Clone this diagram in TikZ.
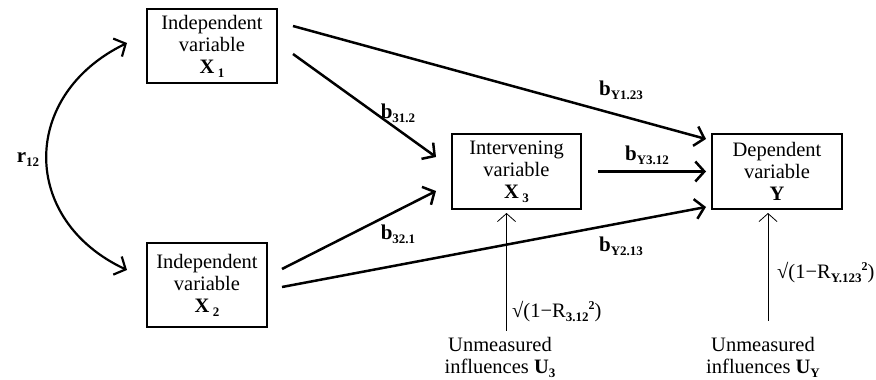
\documentclass[tikz,border=0pt]{standalone}
\usepackage{fontspec}
\setmainfont{Liberation Serif}
\usetikzlibrary{arrows.meta,calc}
\newcommand\lowsub[1]{\raisebox{-4pt}{\fontsize{13}{13}\selectfont\bfseries #1}}
\newcommand\highsup[1]{\raisebox{8pt}{\fontsize{12}{12}\selectfont\bfseries #1}}
\tikzset{
  var/.style={draw,line width=2pt,align=center,inner sep=2pt,
              font=\fontsize{20.5}{22}\selectfont},
  effect/.style={-{Straight Barb[length=9pt,width=20pt]},line width=2.5pt},
  corr/.style={{Straight Barb[length=9pt,width=20pt]}-{Straight Barb[length=9pt,width=20pt]},line width=2.2pt},
  resid/.style={-{Straight Barb[length=8pt,width=18pt]},line width=0.8pt},
  coef/.style={font=\fontsize{21}{22}\selectfont\bfseries,inner sep=1pt},
  note/.style={font=\fontsize{20.5}{22}\selectfont,align=center,inner sep=1pt},
}
\begin{document}
\begin{tikzpicture}[x=1pt,y=-1pt]
  \useasboundingbox (0,0) rectangle (876,380);
  % variables
  \node[var,minimum width=130pt,minimum height=74pt] (x1) at (212,46)
    {Independent\\variable\\\textbf{X}\,\lowsub{1}};
  \node[var,minimum width=120pt,minimum height=84pt] (x2) at (207,285)
    {Independent\\variable\\\textbf{X}\,\lowsub{2}};
  \node[var,minimum width=129pt,minimum height=75pt] (x3) at (516.5,171.5)
    {Intervening\\variable\\\textbf{X}\,\lowsub{3}};
  \node[var,minimum width=130pt,minimum height=75pt] (y) at (777,171.5)
    {Dependent\\variable\\\textbf{Y}};
  \node[note] (u3) at (500,357) {Unmeasured\\influences \textbf{U}\lowsub{3}};
  \node[note] (uy) at (763,357) {Unmeasured\\influences \textbf{U}\lowsub{Y}};
  % paths
  \draw[effect] ($(x1.north east)+(15,18)$) -- ($(y.north west)+(-5,6)$);
  \draw[effect] ($(x1.north east)+(15,46)$) -- ($(x3.north west)+(-15,24)$);
  \draw[effect] ($(x2.north east)+(14,27)$) -- ($(x3.south west)+(-15,-19)$);
  \draw[effect] ($(x2.north east)+(14,45)$) -- ($(y.south west)+(-5,-3)$);
  \draw[effect] ($(x3.east)+(16,0)$) -- ($(y.west)+(-5,0)$);
  \draw[corr] ($(x1.west)+(-19,-3)$) .. controls (20,95) and (20,220) .. ($(x2.west)+(-19,-15)$);
  \draw[resid] ([xshift=-10pt,yshift=5pt]x3.south |- u3.north) -- ([xshift=-10pt,yshift=-3pt]x3.south);
  \draw[resid] ([xshift=-9pt,yshift=15pt]y.south |- uy.north) -- ([xshift=-9pt,yshift=-3pt]y.south);
  % coefficients
  \node[coef] (r12) at (28,160) {r\lowsub{12}};
  \node[coef] (b312) at (398,113) {b\lowsub{31.2}};
  \node[coef] (b321) at (398,234) {b\lowsub{32.1}};
  \node[coef] (by123) at (621,90) {b\lowsub{Y1.23}};
  \node[coef] (by312) at (647,155) {b\lowsub{Y3.12}};
  \node[coef] (by213) at (621,246) {b\lowsub{Y2.13}};
  \node[note,anchor=west] (e3) at (511,312) {\textbf{√}(1−R\lowsub{3.12}\highsup{2})};
  \node[note,anchor=west] (ey) at (776,273) {\textbf{√}(1−R\lowsub{Y.123}\highsup{2})};
\end{tikzpicture}
\end{document}
